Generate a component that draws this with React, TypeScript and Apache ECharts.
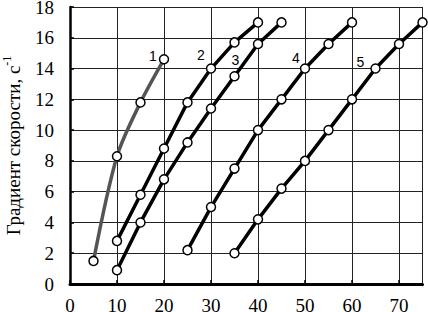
import React, { useEffect, useRef } from "react";
import * as echarts from "echarts";

const xTicks = [0, 10, 20, 30, 40, 50, 60, 70];
const yTicks = [0, 2, 4, 6, 8, 10, 12, 14, 16, 18];

const curveNames = ["1", "2", "3", "4", "5"];
const curve1X = [5, 10, 15, 20];
const curve1Y = [1.5, 8.3, 11.8, 14.6];
const curve2X = [10, 15, 20, 25, 30, 35, 40];
const curve2Y = [2.8, 5.8, 8.8, 11.8, 14.0, 15.7, 17.0];
const curve3X = [10, 15, 20, 25, 30, 35, 40, 45];
const curve3Y = [0.9, 4.0, 6.8, 9.2, 11.4, 13.5, 15.6, 17.0];
const curve4X = [25, 30, 35, 40, 45, 50, 55, 60];
const curve4Y = [2.2, 5.0, 7.5, 10.0, 12.0, 14.0, 15.6, 17.0];
const curve5X = [35, 40, 45, 50, 55, 60, 65, 70, 75];
const curve5Y = [2.0, 4.2, 6.2, 8.0, 10.0, 12.0, 14.0, 15.6, 17.0];

// index of the point each curve number is attached to
const labelPointIndex = [3, 4, 5, 5, 6];
const labelOffsets: [number, number][] = [
  [-11, -3],
  [-10, -14],
  [1, -16],
  [-9, -11],
  [-15, -7],
];

const SERIF = "'Liberation Serif', 'Times New Roman', serif";
const SANS = "'Liberation Sans', Arial, sans-serif";

export default function App() {
  const ref = useRef<HTMLDivElement>(null);
  useEffect(() => {
    if (!ref.current) return;
    const chart = echarts.init(ref.current, undefined, { renderer: "svg" });
    const xs = [curve1X, curve2X, curve3X, curve4X, curve5X];
    const ys = [curve1Y, curve2Y, curve3Y, curve4Y, curve5Y];
    const series = xs.map((xv, si) => ({
      type: "line",
      name: curveNames[si],
      smooth: si === 0 ? 0.3 : false,
      symbol: "circle",
      symbolSize: 9,
      z: 3,
      lineStyle: { color: si === 0 ? "#555" : "#000", width: 3.5 },
      itemStyle: { color: "#fff", borderColor: "#000", borderWidth: 1.5 },
      data: xv.map((x, i) => {
        const item: any = { value: [x, ys[si][i]] };
        if (i === labelPointIndex[si]) {
          item.label = {
            show: true,
            formatter: curveNames[si],
            position: "inside",
            offset: labelOffsets[si],
            fontFamily: SANS,
            fontSize: 14,
            color: "#000",
          };
        }
        return item;
      }),
    }));
    chart.setOption({
      animation: false,
      grid: { left: 70, top: 7, right: 5.5, bottom: 28, containLabel: false, outerBoundsMode: "none" },
      xAxis: {
        type: "value",
        min: 0,
        max: 75,
        interval: 10,
        axisLine: { show: true, onZero: false, lineStyle: { color: "#000", width: 3 } },
        axisTick: { show: true, inside: true, length: 4, lineStyle: { color: "#000", width: 1.5 } },
        axisLabel: {
          margin: 12,
          fontFamily: SERIF,
          fontSize: 19,
          color: "#000",
          showMaxLabel: false,
          formatter: (v: number) => (xTicks.includes(v) ? String(v) : ""),
        },
        splitLine: { show: true, lineStyle: { color: "#222", width: 1 } },
      },
      yAxis: {
        type: "value",
        min: 0,
        max: 18,
        interval: 2,
        name: "{a|Градиент скорости, с}{s|-1}",
        nameLocation: "middle",
        nameGap: 45,
        nameTextStyle: {
          fontFamily: SERIF,
          fontSize: 19,
          color: "#000",
          rich: {
            a: { fontFamily: SERIF, fontSize: 19, color: "#000" },
            s: { fontFamily: SERIF, fontSize: 12, color: "#000", padding: [0, 0, 12, 0] },
          },
        },
        axisLine: { show: true, lineStyle: { color: "#000", width: 2.5 } },
        axisTick: { show: true, inside: true, length: 4, lineStyle: { color: "#000", width: 1.5 } },
        axisLabel: {
          margin: 16,
          fontFamily: SERIF,
          fontSize: 19,
          color: "#000",
          formatter: (v: number) => (yTicks.includes(v) ? String(v) : ""),
        },
        splitLine: { show: true, lineStyle: { color: "#222", width: 1 } },
      },
      series,
    });
    return () => chart.dispose();
  }, []);
  return <div ref={ref} style={{ width: 428, height: 312, position: "absolute", left: 0, top: 0 }} />;
}
